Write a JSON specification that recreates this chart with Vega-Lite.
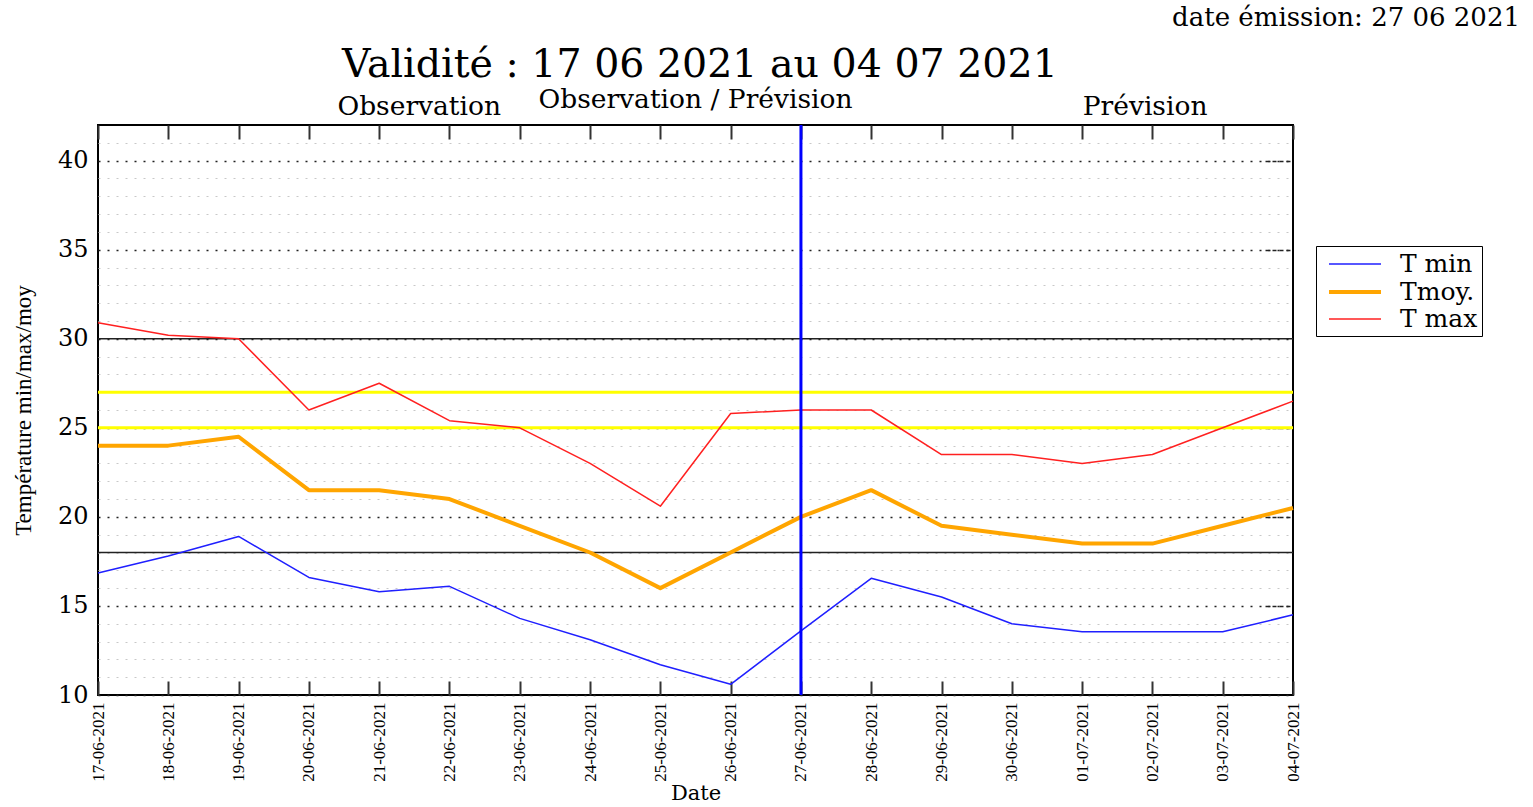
{
  "$schema": "https://vega.github.io/schema/vega-lite/v6.json",
  "autosize": {"type": "none"},
  "padding": {"left": 98, "top": 125, "right": 240, "bottom": 112},
  "width": 1195,
  "height": 570,
  "background": "white",
  "config": {
    "view": {"stroke": "black", "strokeWidth": 2},
    "font": "DejaVu Serif"
  },
  "resolve": {"axis": {"x": "independent", "y": "independent"}},
  "layer": [
    {
      "data": {"values": [{"y": 30}, {"y": 18}]},
      "mark": {"type": "rule", "color": "#222222", "strokeWidth": 1.3},
      "encoding": {
        "y": {
          "field": "y", "type": "quantitative",
          "scale": {"domain": [10, 42], "nice": false, "zero": false},
          "axis": {
            "values": [10,11,12,13,14,15,16,17,18,19,20,21,22,23,24,25,26,27,28,29,30,31,32,33,34,35,36,37,38,39,40,41],
            "labelExpr": "datum.value % 5 === 0 ? datum.label : ''",
            "labelOverlap": false,
            "labelFont": "DejaVu Serif",
            "labelFontSize": 24,
            "labelColor": "black",
            "labelPadding": 10,
            "ticks": false,
            "domain": false,
            "grid": true,
            "gridDash": [2, 7],
            "gridColor": {"condition": {"test": "datum.value % 5 === 0", "value": "#222222"}, "value": "#c8c8c8"},
            "gridWidth": {"condition": {"test": "datum.value % 5 === 0", "value": 1.5}, "value": 1},
            "title": "Température min/max/moy",
            "titleFont": "Liberation Serif",
            "titleFontSize": 23,
            "titleFontWeight": "normal",
            "titleColor": "black",
            "titlePadding": 22
          }
        }
      }
    },
    {
      "data": {"values": [{"y": 27}, {"y": 25}]},
      "mark": {"type": "rule", "color": "#ffff00", "strokeWidth": 3},
      "encoding": {
        "y": {
          "field": "y", "type": "quantitative",
          "axis": {
            "orient": "right",
            "offset": -28,
            "values": [15, 20, 25, 35, 40],
            "labels": false,
            "ticks": true,
            "tickSize": 28,
            "tickDash": [4, 3],
            "tickWidth": 1.5,
            "tickColor": "#222222",
            "domain": false,
            "grid": false,
            "title": null
          }
        }
      }
    },
    {
      "data": {"values": [
        {"date": "2021-06-17", "serie": "T min", "temp": 16.85},
        {"date": "2021-06-18", "serie": "T min", "temp": 17.8},
        {"date": "2021-06-19", "serie": "T min", "temp": 18.9},
        {"date": "2021-06-20", "serie": "T min", "temp": 16.6},
        {"date": "2021-06-21", "serie": "T min", "temp": 15.8},
        {"date": "2021-06-22", "serie": "T min", "temp": 16.1},
        {"date": "2021-06-23", "serie": "T min", "temp": 14.3},
        {"date": "2021-06-24", "serie": "T min", "temp": 13.1},
        {"date": "2021-06-25", "serie": "T min", "temp": 11.7},
        {"date": "2021-06-26", "serie": "T min", "temp": 10.6},
        {"date": "2021-06-27", "serie": "T min", "temp": 13.6},
        {"date": "2021-06-28", "serie": "T min", "temp": 16.55},
        {"date": "2021-06-29", "serie": "T min", "temp": 15.5},
        {"date": "2021-06-30", "serie": "T min", "temp": 14.0},
        {"date": "2021-07-01", "serie": "T min", "temp": 13.55},
        {"date": "2021-07-02", "serie": "T min", "temp": 13.55},
        {"date": "2021-07-03", "serie": "T min", "temp": 13.55},
        {"date": "2021-07-04", "serie": "T min", "temp": 14.5},
        {"date": "2021-06-17", "serie": "Tmoy.", "temp": 24.0},
        {"date": "2021-06-18", "serie": "Tmoy.", "temp": 24.0},
        {"date": "2021-06-19", "serie": "Tmoy.", "temp": 24.5},
        {"date": "2021-06-20", "serie": "Tmoy.", "temp": 21.5},
        {"date": "2021-06-21", "serie": "Tmoy.", "temp": 21.5},
        {"date": "2021-06-22", "serie": "Tmoy.", "temp": 21.0},
        {"date": "2021-06-23", "serie": "Tmoy.", "temp": 19.5},
        {"date": "2021-06-24", "serie": "Tmoy.", "temp": 18.0},
        {"date": "2021-06-25", "serie": "Tmoy.", "temp": 16.0},
        {"date": "2021-06-26", "serie": "Tmoy.", "temp": 18.0},
        {"date": "2021-06-27", "serie": "Tmoy.", "temp": 20.0},
        {"date": "2021-06-28", "serie": "Tmoy.", "temp": 21.5},
        {"date": "2021-06-29", "serie": "Tmoy.", "temp": 19.5},
        {"date": "2021-06-30", "serie": "Tmoy.", "temp": 19.0},
        {"date": "2021-07-01", "serie": "Tmoy.", "temp": 18.5},
        {"date": "2021-07-02", "serie": "Tmoy.", "temp": 18.5},
        {"date": "2021-07-03", "serie": "Tmoy.", "temp": 19.5},
        {"date": "2021-07-04", "serie": "Tmoy.", "temp": 20.5},
        {"date": "2021-06-17", "serie": "T max", "temp": 30.9},
        {"date": "2021-06-18", "serie": "T max", "temp": 30.2},
        {"date": "2021-06-19", "serie": "T max", "temp": 30.0},
        {"date": "2021-06-20", "serie": "T max", "temp": 26.0},
        {"date": "2021-06-21", "serie": "T max", "temp": 27.5},
        {"date": "2021-06-22", "serie": "T max", "temp": 25.4},
        {"date": "2021-06-23", "serie": "T max", "temp": 25.0},
        {"date": "2021-06-24", "serie": "T max", "temp": 23.0},
        {"date": "2021-06-25", "serie": "T max", "temp": 20.6},
        {"date": "2021-06-26", "serie": "T max", "temp": 25.8},
        {"date": "2021-06-27", "serie": "T max", "temp": 26.0},
        {"date": "2021-06-28", "serie": "T max", "temp": 26.0},
        {"date": "2021-06-29", "serie": "T max", "temp": 23.5},
        {"date": "2021-06-30", "serie": "T max", "temp": 23.5},
        {"date": "2021-07-01", "serie": "T max", "temp": 23.0},
        {"date": "2021-07-02", "serie": "T max", "temp": 23.5},
        {"date": "2021-07-03", "serie": "T max", "temp": 25.0},
        {"date": "2021-07-04", "serie": "T max", "temp": 26.5}
      ]},
      "mark": {"type": "line", "strokeJoin": "round"},
      "encoding": {
        "x": {
          "field": "date", "type": "temporal",
          "scale": {"type": "utc", "domain": [{"year": 2021, "month": 6, "date": 17, "utc": true}, {"year": 2021, "month": 7, "date": 4, "utc": true}]},
          "axis": {
            "orient": "bottom",
            "offset": -14,
            "values": [
              {"year": 2021, "month": 6, "date": 17, "utc": true},
              {"year": 2021, "month": 6, "date": 18, "utc": true},
              {"year": 2021, "month": 6, "date": 19, "utc": true},
              {"year": 2021, "month": 6, "date": 20, "utc": true},
              {"year": 2021, "month": 6, "date": 21, "utc": true},
              {"year": 2021, "month": 6, "date": 22, "utc": true},
              {"year": 2021, "month": 6, "date": 23, "utc": true},
              {"year": 2021, "month": 6, "date": 24, "utc": true},
              {"year": 2021, "month": 6, "date": 25, "utc": true},
              {"year": 2021, "month": 6, "date": 26, "utc": true},
              {"year": 2021, "month": 6, "date": 27, "utc": true},
              {"year": 2021, "month": 6, "date": 28, "utc": true},
              {"year": 2021, "month": 6, "date": 29, "utc": true},
              {"year": 2021, "month": 6, "date": 30, "utc": true},
              {"year": 2021, "month": 7, "date": 1, "utc": true},
              {"year": 2021, "month": 7, "date": 2, "utc": true},
              {"year": 2021, "month": 7, "date": 3, "utc": true},
              {"year": 2021, "month": 7, "date": 4, "utc": true}
            ],
            "format": "%d-%m-%Y",
            "labelAngle": -90,
            "labelFont": "Liberation Serif",
            "labelFontSize": 17,
            "labelLimit": 500,
            "labelOverlap": false,
            "labelFlush": false,
            "labelColor": "black",
            "labelPadding": 7,
            "tickSize": 14,
            "tickWidth": 2,
            "tickColor": "#333333",
            "domain": false,
            "grid": false,
            "title": "Date",
            "titleFont": "DejaVu Serif",
            "titleFontSize": 21,
            "titleFontWeight": "normal",
            "titleColor": "black",
            "titlePadding": 1
          }
        },
        "y": {"field": "temp", "type": "quantitative", "axis": null},
        "color": {
          "field": "serie", "type": "nominal",
          "scale": {"domain": ["T min", "Tmoy.", "T max"], "range": ["#1f1fff", "#ffa500", "#ff2020"]},
          "legend": {
            "title": null,
            "orient": "none",
            "legendX": 1218,
            "legendY": 121,
            "strokeColor": "black",
            "fillColor": "white",
            "padding": 4,
            "symbolType": "M-2,0H2",
            "symbolSize": 676,
            "symbolOffset": 20,
            "labelFont": "DejaVu Serif",
            "labelFontSize": 25,
            "labelColor": "black",
            "labelOffset": 30,
            "rowPadding": -3
          }
        },
        "strokeWidth": {
          "field": "serie", "type": "nominal",
          "scale": {"type": "ordinal", "domain": ["T min", "Tmoy.", "T max"], "range": [1.5, 4, 1.5]}
        }
      }
    },
    {
      "data": {"values": [{"date": "2021-06-27"}]},
      "mark": {"type": "rule", "color": "#0000ff", "strokeWidth": 3},
      "encoding": {
        "x": {
          "field": "date", "type": "temporal",
          "axis": {
            "orient": "top",
            "offset": -14,
            "values": [
              {"year": 2021, "month": 6, "date": 17, "utc": true},
              {"year": 2021, "month": 6, "date": 18, "utc": true},
              {"year": 2021, "month": 6, "date": 19, "utc": true},
              {"year": 2021, "month": 6, "date": 20, "utc": true},
              {"year": 2021, "month": 6, "date": 21, "utc": true},
              {"year": 2021, "month": 6, "date": 22, "utc": true},
              {"year": 2021, "month": 6, "date": 23, "utc": true},
              {"year": 2021, "month": 6, "date": 24, "utc": true},
              {"year": 2021, "month": 6, "date": 25, "utc": true},
              {"year": 2021, "month": 6, "date": 26, "utc": true},
              {"year": 2021, "month": 6, "date": 27, "utc": true},
              {"year": 2021, "month": 6, "date": 28, "utc": true},
              {"year": 2021, "month": 6, "date": 29, "utc": true},
              {"year": 2021, "month": 6, "date": 30, "utc": true},
              {"year": 2021, "month": 7, "date": 1, "utc": true},
              {"year": 2021, "month": 7, "date": 2, "utc": true},
              {"year": 2021, "month": 7, "date": 3, "utc": true},
              {"year": 2021, "month": 7, "date": 4, "utc": true}
            ],
            "labels": false,
            "tickSize": 14,
            "tickWidth": 2,
            "tickColor": "#333333",
            "domain": false,
            "grid": false,
            "title": null
          }
        }
      }
    },
    {
      "data": {"values": [
        {"date": "2021-06-21T13:40:00Z", "y": 43.0, "label": "Observation"},
        {"date": "2021-06-25T12:00:00Z", "y": 43.4, "label": "Observation / Prévision"},
        {"date": "2021-07-01T21:30:00Z", "y": 43.0, "label": "Prévision"}
      ]},
      "mark": {"type": "text", "font": "DejaVu Serif", "fontSize": 26.5, "color": "black", "baseline": "middle", "align": "center"},
      "encoding": {
        "x": {"field": "date", "type": "temporal", "axis": null},
        "y": {"field": "y", "type": "quantitative", "axis": null},
        "text": {"field": "label"}
      }
    },
    {
      "data": {"values": [
        {"date": "2021-06-25T13:30:00Z", "y": 44.7, "label": "Validité : 17 06 2021 au 04 07 2021"}
      ]},
      "mark": {"type": "text", "font": "DejaVu Serif", "fontSize": 39.5, "color": "black", "baseline": "alphabetic", "align": "center"},
      "encoding": {
        "x": {"field": "date", "type": "temporal", "axis": null},
        "y": {"field": "y", "type": "quantitative", "axis": null},
        "text": {"field": "label"}
      }
    },
    {
      "data": {"values": [
        {"date": "2021-07-07T05:30:00Z", "y": 48.0, "label": "date émission: 27 06 2021"}
      ]},
      "mark": {"type": "text", "font": "DejaVu Serif", "fontSize": 26, "color": "black", "baseline": "middle", "align": "right"},
      "encoding": {
        "x": {"field": "date", "type": "temporal", "axis": null},
        "y": {"field": "y", "type": "quantitative", "axis": null},
        "text": {"field": "label"}
      }
    }
  ]
}
